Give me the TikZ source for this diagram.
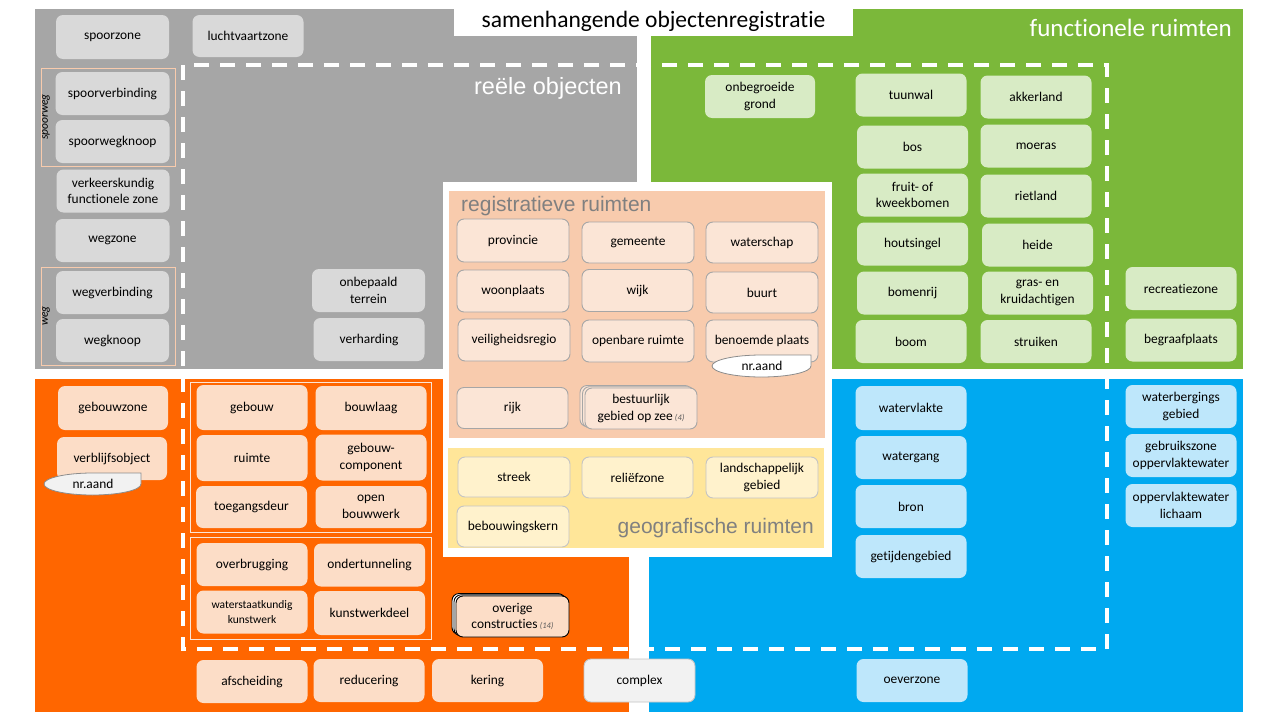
\documentclass[tikz,border=0pt]{standalone}
\usepackage{fontspec}
\setmainfont{Carlito}[Ligatures={NoCommon}]
\newfontfamily\arialf{Liberation Sans}
\definecolor{grayreg}{HTML}{A6A6A6}
\definecolor{grayboxc}{HTML}{D9D9D9}
\definecolor{greenreg}{HTML}{7BB83A}
\definecolor{greenboxc}{HTML}{D8EBC5}
\definecolor{orangereg}{HTML}{FF6600}
\definecolor{orangeboxc}{HTML}{FCDDC7}
\definecolor{bluereg}{HTML}{00A9F0}
\definecolor{blueboxc}{HTML}{BEE7FB}
\definecolor{peachreg}{HTML}{F8CBAD}
\definecolor{peachboxc}{HTML}{FBE5D6}
\definecolor{yellowreg}{HTML}{FFE699}
\definecolor{yellowboxc}{HTML}{FFF2CC}
\definecolor{pborder}{HTML}{A6A6A6}
\definecolor{yborder}{HTML}{C4C4C4}
\definecolor{labelgray}{HTML}{808080}
\definecolor{complexc}{HTML}{F2F2F2}
\definecolor{nrborder}{HTML}{8C8C8C}
\definecolor{cntgray}{HTML}{595959}
\newcommand{\nrshape}[5]{%
  \filldraw[fill=#5, draw=nrborder, line width=0.8pt]
   ({#1},{#2-#4}) -- ({#1+#3},{#2-#4}) -- ({#1+#3},{#2})
   .. controls ({#1+#3},{#2+0.552*#4}) and ({#1+0.552*#3},{#2+#4}) .. ({#1},{#2+#4})
   .. controls ({#1-0.552*#3},{#2+#4}) and ({#1-#3},{#2+0.552*#4}) .. ({#1-#3},{#2})
   .. controls ({#1-#3},{#2-0.552*#4}) and ({#1-0.552*#3},{#2-#4}) .. ({#1},{#2-#4}) -- cycle;}
\newcommand{\cnt}[1]{{\itshape\fontsize{8.5}{9}\selectfont\color{cntgray}(#1)}}
\tikzset{
  box/.style={rounded corners=7pt, minimum width=111pt, minimum height=43pt, inner sep=1pt,
    align=center, text=black, font=\fontsize{13.4}{16.5}\selectfont},
  gbox/.style={box, fill=grayboxc},
  grbox/.style={box, fill=greenboxc},
  obox/.style={box, fill=orangeboxc},
  bbox/.style={box, fill=blueboxc},
  pbox/.style={box, fill=peachboxc, draw=pborder, line width=0.9pt},
  ybox/.style={box, fill=yellowboxc, draw=yborder, line width=0.9pt},
  regionlabel/.style={font=\arialf\fontsize{21}{24}\selectfont, text=labelgray, inner sep=0pt},
  dashline/.style={draw=white, line width=4pt, dash pattern=on 15pt off 11pt},
  groupframe/.style={draw=peachreg, line width=1pt},
  innerframe/.style={draw=peachboxc, line width=1pt},
  sidelabel/.style={rotate=90, inner sep=0pt, font=\itshape\fontsize{11.5}{12}\selectfont},
  nrtext/.style={inner sep=0pt, font=\fontsize{13.4}{15}\selectfont}
}
\begin{document}
\begin{tikzpicture}[x=1pt,y=-1pt]
\useasboundingbox (0,0) rectangle (1280,720);
\fill[white] (0,0) rectangle (1280,720);
% regions
\fill[grayreg] (35,9) rectangle (637,369);
\fill[greenreg] (651,9) rectangle (1243,369);
\fill[orangereg] (35,379) rectangle (629,712);
\fill[bluereg] (649,379) rectangle (1243,712);
\fill[white] (454,9) rectangle (853,36);
\fill[white] (443,182) rectangle (832,557);
\fill[peachreg] (449,191) rectangle (825,438);
\fill[yellowreg] (448,448) rectangle (824,548);
% dashed boundary
\draw[dashline] (183,65) rectangle (1107,649);
% frames
\draw[groupframe] (41,68) rectangle (175.5,166);
\draw[groupframe] (41,267) rectangle (175.5,365);
\draw[innerframe] (190,382) rectangle (431,532);
\draw[innerframe] (190,537) rectangle (431,639);
% titles
\node[inner sep=0pt, font=\fontsize{23.5}{26}\selectfont] (title) at (653.5,21) {samenhangende objectenregistratie};
\node[anchor=east, inner sep=0pt, text=white, font=\arialf\fontsize{23.5}{26}\selectfont] (reeel) at (622,88) {reële objecten};
\node[anchor=east, inner sep=0pt, text=white, font=\fontsize{25}{28}\selectfont] (func) at (1232,28) {functionele ruimten};
\node[regionlabel, anchor=west] (regis) at (461,206) {registratieve ruimten};
\node[regionlabel, anchor=east] (geo) at (814,528) {geografische ruimten};
\node[sidelabel] (spoorweglabel) at (46,117) {spoorweg};
\node[sidelabel] (weglabel) at (46,316) {weg};
% gray boxes
\node[gbox, minimum width=113pt, minimum height=44pt] (spoorzone) at (112.5,37) {spoorzone};
\node[gbox, minimum height=42pt] (luchtvaartzone) at (248,36) {luchtvaartzone};
\node[gbox, minimum width=114pt] (spoorverbinding) at (112.5,93.5) {spoorverbinding};
\node[gbox, minimum width=114pt] (spoorwegknoop) at (112.5,141.5) {spoorwegknoop};
\node[gbox, minimum width=113pt] (verkeer) at (113,191) {verkeerskundig\\functionele zone};
\node[gbox, minimum width=114pt] (wegzone) at (112.5,240.5) {wegzone};
\node[gbox, minimum width=113pt] (wegverbinding) at (112.5,292.5) {wegverbinding};
\node[gbox, minimum width=113pt] (wegknoop) at (112.5,340.5) {wegknoop};
\node[gbox, minimum width=113pt] (onbepaald) at (368.5,290.5) {onbepaald\\terrein};
\node[gbox] (verharding) at (369,339.5) {verharding};
% green boxes
\node[grbox, minimum width=110pt] (onbegroeide) at (760,96.5) {onbegroeide\\grond};
\node[grbox] (tuunwal) at (911,95) {tuunwal};
\node[grbox] (akkerland) at (1036,97) {akkerland};
\node[grbox] (bos) at (912.5,147) {bos};
\node[grbox] (moeras) at (1036,146) {moeras};
\node[grbox] (fruit) at (912.5,195) {fruit- of\\kweekbomen};
\node[grbox] (rietland) at (1036,196) {rietland};
\node[grbox] (houtsingel) at (912.5,244) {houtsingel};
\node[grbox] (heide) at (1037.5,245) {heide};
\node[grbox] (bomenrij) at (912.5,293) {bomenrij};
\node[grbox] (gras) at (1037.5,293) {gras- en\\kruidachtigen};
\node[grbox] (boom) at (911,341.5) {boom};
\node[grbox] (struiken) at (1036,341.5) {struiken};
\node[grbox] (recreatiezone) at (1181,288.5) {recreatiezone};
\node[grbox] (begraafplaats) at (1181,340) {begraafplaats};
% registratieve ruimten
\node[pbox, minimum width=112pt] (provincie) at (513,240.5) {provincie};
\node[pbox, minimum width=112pt, minimum height=41pt] (gemeente) at (638,242.5) {gemeente};
\node[pbox, minimum width=112pt, minimum height=41pt] (waterschap) at (762,242.5) {waterschap};
\node[pbox, minimum width=112pt, minimum height=42pt] (woonplaats) at (513,291) {woonplaats};
\node[pbox, minimum width=111pt, minimum height=42pt] (wijk) at (637.5,290.5) {wijk};
\node[pbox, minimum width=112pt, minimum height=41pt] (buurt) at (762,292.5) {buurt};
\node[pbox, minimum width=112pt, minimum height=42pt] (veiligheidsregio) at (514,340) {veiligheidsregio};
\node[pbox, minimum width=112pt, minimum height=42pt] (openbare) at (638,341) {openbare ruimte};
\node[pbox, minimum width=112pt, minimum height=42pt] (benoemde) at (762,341) {benoemde plaats};
\nrshape{761.5}{366}{49.5}{11}{white}
\node[nrtext] (nraand1) at (762,366) {nr.aand};
\node[pbox, minimum width=111pt, minimum height=41pt] (rijk) at (512.5,408) {rijk};
\node[pbox, minimum width=112pt, minimum height=41pt] (bestB2) at (636,406) {};
\node[pbox, minimum width=112pt, minimum height=41pt] (bestB1) at (638.5,407.2) {};
\node[pbox, minimum width=112pt, minimum height=41pt] (bestuurlijk) at (641,408.5) {bestuurlijk\\gebied op zee\,\cnt{4}};
% geografische ruimten
\node[ybox, minimum width=112pt, minimum height=40pt] (streek) at (514,477) {streek};
\node[ybox, minimum width=111pt, minimum height=41pt] (reliefzone) at (637.5,477.5) {reliëfzone};
\node[ybox, minimum width=112pt, minimum height=41pt] (landschappelijk) at (762,477.5) {landschappelijk\\gebied};
\node[ybox, minimum width=112pt, minimum height=41pt] (bebouwingskern) at (513,526.5) {bebouwingskern};
% orange boxes
\node[obox, minimum width=110pt, minimum height=44pt] (gebouwzone) at (113,408) {gebouwzone};
\node[obox, minimum width=110pt] (verblijfsobject) at (112,458.5) {verblijfsobject};
\nrshape{92.5}{484}{48.5}{11}{complexc}
\node[nrtext] (nraand2) at (93,484) {nr.aand};
\node[obox, minimum height=45pt] (gebouw) at (252,407.5) {gebouw};
\node[obox, minimum height=44pt] (bouwlaag) at (371,408) {bouwlaag};
\node[obox, minimum height=46pt] (ruimte) at (252,458) {ruimte};
\node[obox, minimum height=46pt] (gebouwcomponent) at (371,457.5) {gebouw-\\component};
\node[obox, minimum height=42pt] (toegangsdeur) at (251.5,507) {toegangsdeur};
\node[obox, minimum height=42pt] (open) at (371,507) {open\\bouwwerk};
\node[obox] (overbrugging) at (252,564.5) {overbrugging};
\node[obox] (ondertunneling) at (369.5,565) {ondertunneling};
\node[obox, font=\fontsize{11.5}{14.5}\selectfont] (waterstaatkundig) at (252,612) {waterstaatkundig\\kunstwerk};
\node[obox, minimum height=44pt] (kunstwerkdeel) at (369.5,613) {kunstwerkdeel};
\node[box, fill=white, draw=black, line width=0.9pt, minimum width=113pt, minimum height=41pt] (overB2) at (508.5,614) {};
\node[box, fill=white, draw=black, line width=0.9pt, minimum width=113pt, minimum height=41pt] (overB1) at (510.5,615.3) {};
\node[obox, draw=black, line width=0.9pt, minimum width=113pt, minimum height=41pt] (overige) at (512.5,616.5) {overige\\constructies\,\cnt{14}};
\node[obox] (afscheiding) at (252,681.5) {afscheiding};
\node[obox] (reducering) at (369,680.5) {reducering};
\node[obox] (kering) at (487.5,680.5) {kering};
\node[box, fill=complexc, draw=yborder, line width=0.9pt] (complex) at (639.5,680.5) {complex};
% blue boxes
\node[bbox, minimum height=44pt] (watervlakte) at (911,408) {watervlakte};
\node[bbox] (watergang) at (911,457.5) {watergang};
\node[bbox] (bron) at (911,506.5) {bron};
\node[bbox] (getijdengebied) at (911,556.5) {getijdengebied};
\node[bbox] (oeverzone) at (912,680.5) {oeverzone};
\node[bbox] (waterbergings) at (1181,406.5) {waterbergings\\gebied};
\node[bbox] (gebruikszone) at (1181,455.5) {gebruikszone\\oppervlaktewater};
\node[bbox] (oppervlaktewater) at (1181,505.5) {oppervlaktewater\\lichaam};
\end{tikzpicture}
\end{document}
